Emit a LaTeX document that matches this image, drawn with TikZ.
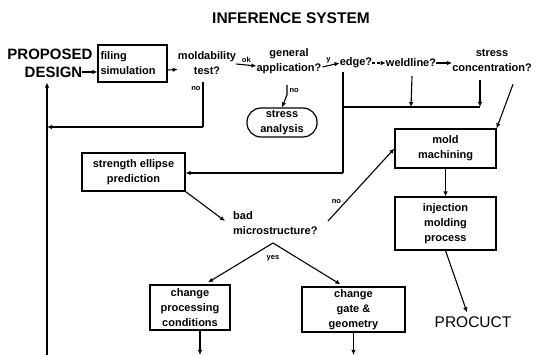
\documentclass[tikz,border=0pt]{standalone}
\usepackage{fontspec}
\setmainfont{Liberation Sans}
\usetikzlibrary{arrows.meta,calc}
\begin{document}
\begin{tikzpicture}[x=1pt,y=-1pt,
  every node/.style={font=\fontsize{11}{15}\selectfont\bfseries, inner sep=0pt},
  lbl/.style={font=\fontsize{7.5}{8}\selectfont\bfseries},
  big/.style={font=\fontsize{15}{18}\selectfont\bfseries},
  box/.style={draw, line width=1.2pt, align=center},
  arr/.style={line width=1.1pt, -{Latex[length=5pt,width=4.5pt]}},
  ln/.style={line width=1.1pt},
]
\useasboundingbox (0,0) rectangle (544,355);

% texts and boxes
\node[font=\fontsize{15.5}{18}\selectfont\bfseries] (title) at (291,18) {INFERENCE SYSTEM};
\node[big] (design1) at (50,54) {PROPOSED};
\node[big] (design2) at (53.5,72) {DESIGN};
\node[box, minimum width=69, minimum height=37, text width=64, align=left] (fill) at (132.5,63.5) {filing\\simulation};
\node[align=center] (moldtest) at (207,63) {moldability\\test?};
\node[align=center] (genapp) at (289,61) {general\\application?};
\node (edge) at (356,63) {edge?};
\node (weld) at (411,63) {weldline?};
\node[align=center] (conc) at (492,60) {stress\\concentration?};
\node[box, rounded corners=14, minimum width=70, minimum height=29] (sa) at (282,122.5) {stress\\analysis};
\node[box, minimum width=103, minimum height=38] (strength) at (133.5,172) {strength ellipse\\prediction};
\node[anchor=west, align=left] (bad) at (233,223) {bad\\microstructure?};
\node[box, minimum width=101, minimum height=39] (mold) at (445.5,148.5) {mold\\machining};
\node[box, minimum width=101, minimum height=53] (inj) at (445.5,223.5) {injection\\molding\\process};
\node[font=\fontsize{15.5}{18}\selectfont] (product) at (473,322) {PROCUCT};
\node[box, minimum width=80, minimum height=45] (chproc) at (190,307.5) {change\\processing\\conditions};
\node[box, minimum width=103, minimum height=45] (chgate) at (353.5,309.5) {change\\gate \&\\geometry};

% helper coordinates
\coordinate (lb) at (47,355);
\coordinate (c127) at (203,127);
\coordinate (j1) at (343,107);
\coordinate (j2) at (343,173);
\coordinate (j3) at (480,107);
\coordinate (apex) at (273,243);
\coordinate (nostart) at (328,221);
\coordinate (b1) at (200,355);

% connectors
\draw[arr] (design2.east) -- (fill.west |- design2.east);
\draw[arr] ($(fill.east)+(0,6.5)$) -- ($(moldtest.west)+(0,6.5)$);
\draw[arr] ($(moldtest.east)+(0,1)$) -- node[lbl, above=2pt] {ok} ($(genapp.west)+(0,5)$);
\draw[arr] ($(genapp.east)+(1,6)$) -- node[lbl, above=2pt, pos=0.35] {y} (edge.west);
\draw[arr, dashed, dash pattern=on 3pt off 1.5pt] (edge.east) -- (weld.west);
\draw[arr] (weld.east) -- (conc.west |- weld.east);

% no from moldability test back to design
\draw[ln] ($(moldtest.south -| c127)+(0,7)$) -- node[lbl, left=2pt, pos=0.15] {no} (c127);
\draw[arr] (c127) -- (lb |- c127);
\draw[arr] (lb) -- ($(design2.south -| lb)+(0,5)$);

% no from general application to stress analysis
\draw[arr] ($(genapp.south)+(-2,11)$) -- node[lbl, right=2pt, pos=0.6] {no} ++(0,10) -- (sa.north);

% edge / weldline / concentration collector
\draw[ln] ($(edge.south -| j1)+(0,4)$) -- (j2);
\draw[arr] (j2) -- (strength.east |- j2);
\draw[ln] (j1) -- (j3);
\draw[arr] ($(weld.south)+(1,9)$) -- (weld.south |- j1);
\draw[arr] ($(conc.south -| j3)+(0,9)$) -- (j3);
\draw[arr] ($(conc.south)+(21,13)$) -- (mold.north east);

% right column
\draw[arr] (mold.south) -- (inj.north);
\draw[arr] (inj.south) -- ($(product.north)+(-6,-4)$);

% strength ellipse -> bad microstructure
\draw[arr] (strength.south east) -- ($(bad.west)+(-8,-2)$);
\draw[arr] (nostart) -- node[lbl, above left=1pt, pos=0.22] {no} (mold.west);

% yes branches
\draw[arr] (apex) -- ($(chproc.north)+(18,-2)$);
\draw[arr] (apex) -- ($(chgate.north)+(-13,-2)$);
\node[lbl] (yes) at (273,258) {yes};

% bottom arrows
\draw[arr] (chproc.south -| b1) -- (b1);
\draw[arr] (chgate.south) -- (chgate.south |- b1);
\end{tikzpicture}
\end{document}
